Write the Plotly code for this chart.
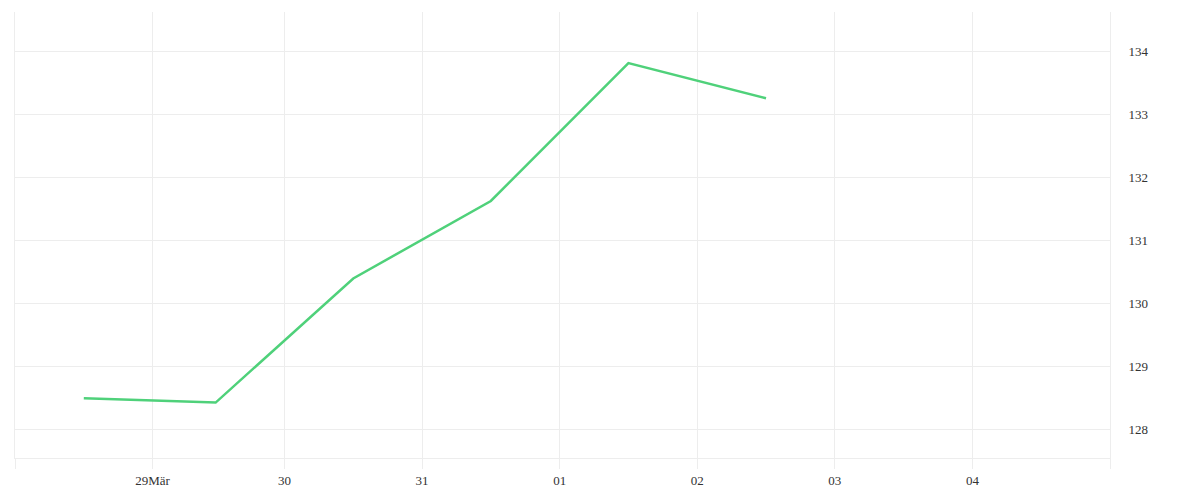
import plotly.graph_objects as go

# times in UTC; the chart shows Europe/Berlin local time (DST starts 29 Mar 2020)
times = ["2020-03-28 11:00", "2020-03-29 10:00", "2020-03-30 10:00",
         "2020-03-31 10:00", "2020-04-01 10:00", "2020-04-02 10:00"]
values = [128.49, 128.42, 130.39, 131.62, 133.81, 133.25]

# local midnights expressed in UTC
tick_times = ["2020-03-27 23:00", "2020-03-28 23:00", "2020-03-29 22:00",
              "2020-03-30 22:00", "2020-03-31 22:00", "2020-04-01 22:00",
              "2020-04-02 22:00", "2020-04-03 22:00", "2020-04-04 22:00"]
tick_labels = ["", "29Mär", "30", "31", "01", "02", "03", "04", ""]

y_ticks = [128, 129, 130, 131, 132, 133, 134]

fig = go.Figure()
fig.add_trace(go.Scatter(
    x=times, y=values, mode="lines",
    line=dict(color="#4fd17a", width=2.5),
    hoverinfo="x+y",
))

font = dict(family="Liberation Serif, DejaVu Serif, serif", size=13, color="#333333")
grid = "#ededed"

fig.update_layout(
    width=1200, height=500,
    margin=dict(l=7, r=98, t=4, b=50),
    plot_bgcolor="white", paper_bgcolor="white",
    showlegend=False,
    font=font,
)
fig.update_xaxes(
    type="date",
    range=["2020-03-27 23:00", "2020-04-04 22:00"],
    tickmode="array", tickvals=tick_times, ticktext=tick_labels,
    showgrid=True, gridcolor=grid, gridwidth=1,
    ticks="outside", ticklen=10, tickcolor=grid, tickwidth=1,
    showline=True, linecolor=grid, linewidth=1,
    zeroline=False,
)
fig.update_yaxes(
    side="right",
    range=[127.54, 134.62],
    tickmode="array", tickvals=y_ticks,
    ticktext=[str(v) for v in y_ticks],
    showgrid=True, gridcolor=grid, gridwidth=1,
    ticks="", ticklabelstandoff=15,
    showline=True, mirror=True, linecolor=grid, linewidth=1,
    zeroline=False,
)

fig.write_html("out.html")
